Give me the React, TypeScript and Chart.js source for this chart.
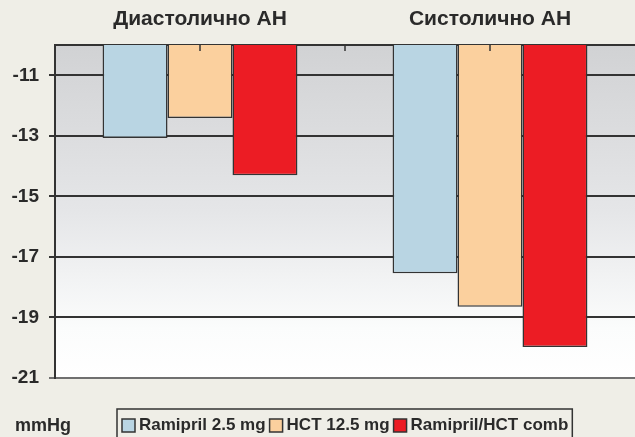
import React, { useEffect, useRef } from "react";
import { Chart, registerables } from "chart.js";

Chart.register(...registerables);

const categories = ["Диастолично АН", "Систолично АН"];
const seriesNames = ["Ramipril 2.5 mg", "HCT 12.5 mg", "Ramipril/HCT comb"];
const ramiprilValues = [-13.07, -17.54];
const hctValues = [-12.41, -18.65];
const comboValues = [-14.3, -19.98];
const seriesColors = ["#b9d5e3", "#fbd09e", "#ec1c24"];
const yTicks = [-11, -13, -15, -17, -19, -21];
const yMin = -21;
const yMax = -10;
const unitLabel = "mmHg";

const FONT = "'Liberation Sans', Arial, sans-serif";
const BG = "#efeee7";
const LINE = "#333333";
const TEXT = "#2a2a2a";

export default function App() {
  const ref = useRef<HTMLCanvasElement | null>(null);

  useEffect(() => {
    const canvas = ref.current;
    if (!canvas) return;

    const bgPlugin = {
      id: "bgPlugin",
      beforeDraw(chart: any) {
        const { ctx, chartArea } = chart;
        ctx.save();
        ctx.fillStyle = BG;
        ctx.fillRect(0, 0, chart.width, chart.height);
        const g = ctx.createLinearGradient(0, chartArea.top, 0, chartArea.bottom);
        g.addColorStop(0, "#d1d2d4");
        g.addColorStop(0.5, "#e5e6e8");
        g.addColorStop(0.85, "#fbfcfc");
        g.addColorStop(1, "#ffffff");
        ctx.fillStyle = g;
        ctx.fillRect(chartArea.left, chartArea.top, chartArea.right - chartArea.left, chartArea.bottom - chartArea.top);
        ctx.restore();
      },
    };

    const decoPlugin = {
      id: "decoPlugin",
      afterDraw(chart: any) {
        const { ctx, chartArea } = chart;
        const xs = chart.scales.x;
        ctx.save();
        ctx.strokeStyle = LINE;
        ctx.lineWidth = 1.5;
        const marks: number[] = [];
        for (let i = 0; i < categories.length; i++) {
          marks.push(xs.getPixelForValue(i));
          if (i < categories.length - 1) {
            marks.push((xs.getPixelForValue(i) + xs.getPixelForValue(i + 1)) / 2);
          }
        }
        marks.forEach((mx) => {
          ctx.beginPath();
          ctx.moveTo(mx, chartArea.top);
          ctx.lineTo(mx, chartArea.top + 6);
          ctx.stroke();
        });

        ctx.fillStyle = TEXT;
        ctx.font = `bold 18px ${FONT}`;
        ctx.textBaseline = "alphabetic";
        ctx.textAlign = "left";
        ctx.fillText(unitLabel, 15, 431);

        ctx.font = `bold 17px ${FONT}`;
        let x = 122;
        const sy = 419;
        const ds = chart.data.datasets;
        ds.forEach((d: any, i: number) => {
          ctx.fillStyle = d.backgroundColor;
          ctx.fillRect(x, sy, 13, 13);
          ctx.strokeStyle = LINE;
          ctx.lineWidth = 1.5;
          ctx.strokeRect(x, sy, 13, 13);
          ctx.fillStyle = TEXT;
          ctx.fillText(d.label, x + 17, 430);
          const w = ctx.measureText(d.label).width;
          x = x + 17 + w + (i < ds.length - 1 ? 4 : 4);
        });
        ctx.strokeStyle = LINE;
        ctx.lineWidth = 1.5;
        ctx.strokeRect(117, 409, x - 117, 40);
        ctx.restore();
      },
    };

    const chart = new Chart(canvas, {
      type: "bar",
      data: {
        labels: categories,
        datasets: [
          { label: seriesNames[0], data: ramiprilValues, backgroundColor: seriesColors[0] },
          { label: seriesNames[1], data: hctValues, backgroundColor: seriesColors[1] },
          { label: seriesNames[2], data: comboValues, backgroundColor: seriesColors[2] },
        ].map((d) => ({
          ...d,
          borderColor: LINE,
          borderWidth: 1.5,
          categoryPercentage: 0.672,
          barPercentage: 1,
        })),
      },
      options: {
        responsive: false,
        animation: false,
        layout: { padding: { left: 0, right: 0, top: 0, bottom: 59 } },
        plugins: {
          legend: { display: false },
          tooltip: { enabled: false },
        },
        scales: {
          x: {
            position: "top",
            grid: { display: false },
            border: { display: true, color: LINE, width: 2 },
            ticks: {
              color: TEXT,
              font: { family: FONT, size: 21, weight: "bold" },
              padding: 5,
              maxRotation: 0,
            },
            afterFit(scale: any) {
              scale.height = 45;
            },
          },
          y: {
            min: yMin,
            max: yMax,
            afterBuildTicks(scale: any) {
              scale.ticks = yTicks.map((v) => ({ value: v }));
            },
            grid: {
              color: (ctx: any) => (ctx.tick && ctx.tick.value === yMin ? "#707070" : LINE),
              lineWidth: 2,
              tickLength: 6,
              drawTicks: true,
            },
            border: { display: true, color: LINE, width: 2 },
            ticks: {
              color: TEXT,
              font: { family: FONT, size: 19, weight: "bold" },
              padding: 10,
              callback: (v: any) => String(v),
            },
            afterFit(scale: any) {
              scale.width = 55;
            },
          },
        },
      },
      plugins: [bgPlugin, decoPlugin],
    } as any);

    return () => chart.destroy();
  }, []);

  return (
    <div style={{ position: "absolute", left: 0, top: 0, width: 635, height: 437, background: BG, overflow: "hidden" }}>
      <canvas ref={ref} width={635} height={437} style={{ display: "block" }} />
    </div>
  );
}
